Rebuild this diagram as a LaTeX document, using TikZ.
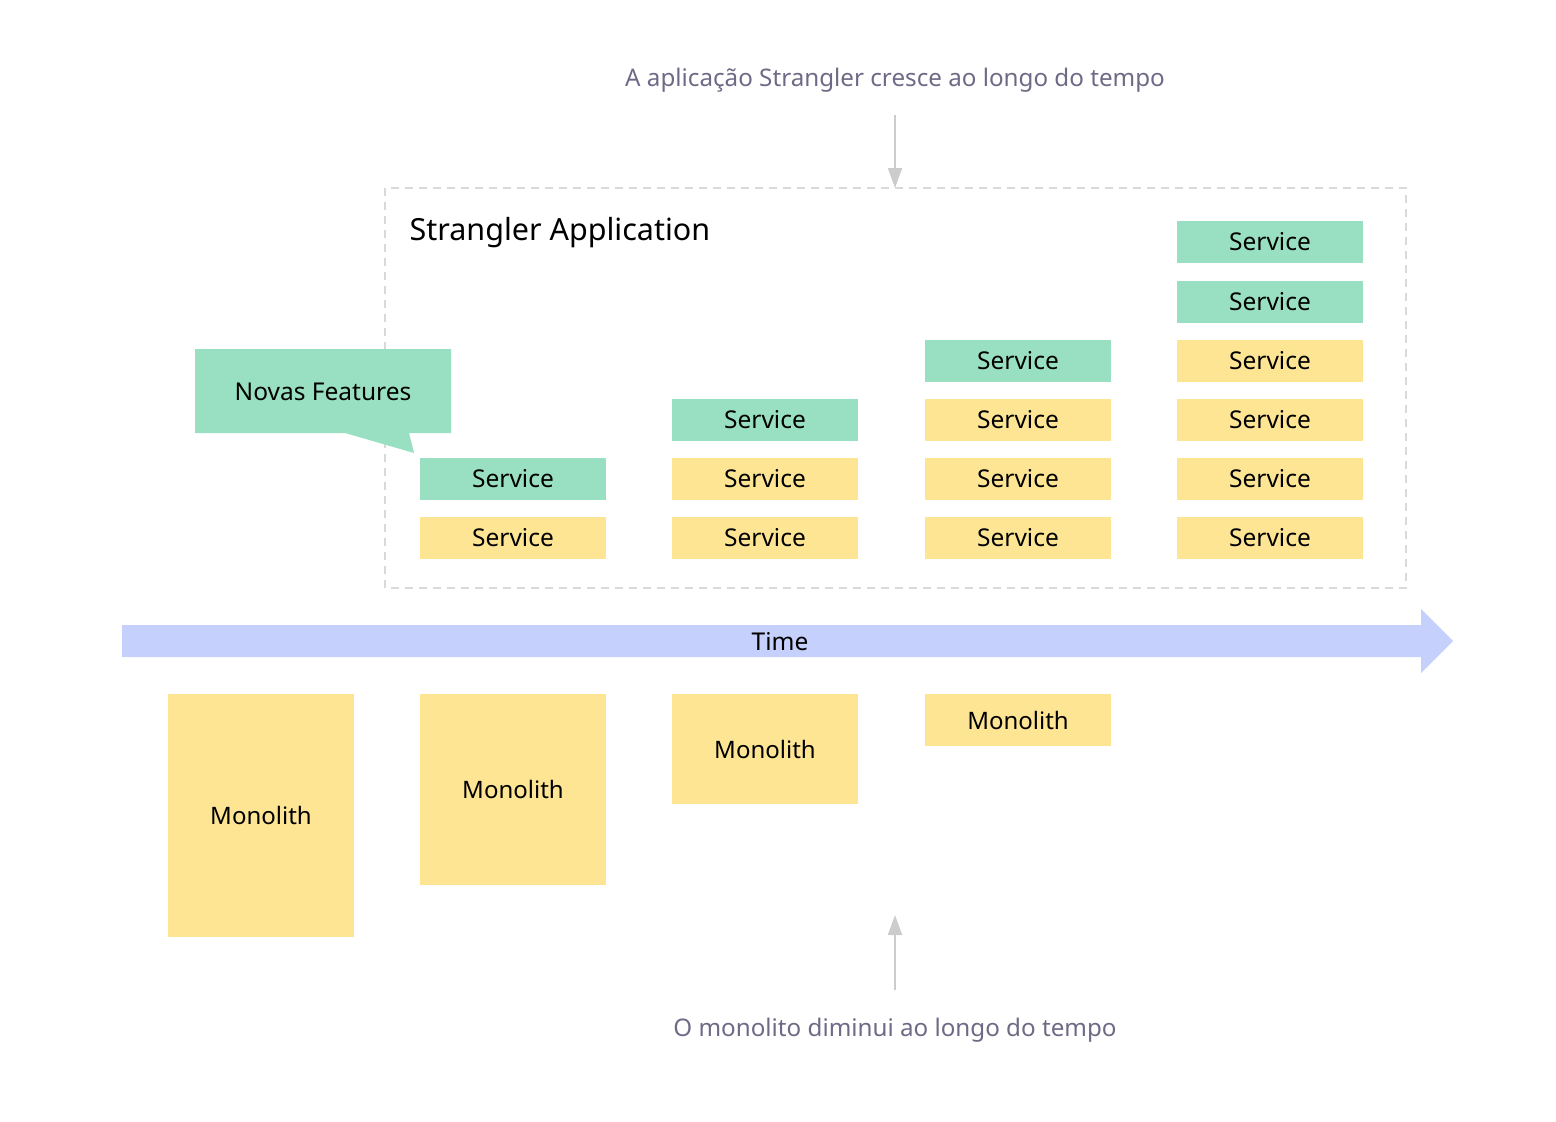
\documentclass[tikz,border=0pt]{standalone}
\usepackage{fontspec}
\setmainfont{Noto Sans}
\usetikzlibrary{arrows.meta,shapes.arrows}
\definecolor{grn}{HTML}{99E0C2}
\definecolor{ylw}{HTML}{FDE594}
\definecolor{tarrow}{HTML}{C5D0FC}
\definecolor{cap}{HTML}{6E6A86}
\definecolor{lgray}{HTML}{CCCCCC}
\definecolor{dgray}{HTML}{D9D9D9}
\tikzset{
  svc/.style={minimum width=186pt,minimum height=42pt,inner sep=0pt,font=\fontsize{24.5}{28}\selectfont},
  gsvc/.style={svc,fill=grn},
  ysvc/.style={svc,fill=ylw},
  mono/.style={fill=ylw,inner sep=0pt,font=\fontsize{24}{28}\selectfont,minimum width=186pt},
  captxt/.style={text=cap,font=\fontsize{24.2}{28}\selectfont},
  conn/.style={draw=lgray,line width=2pt,-{Triangle[length=20pt,width=14pt]}}
}
\begin{document}
\begin{tikzpicture}[x=1pt,y=-1pt]
\useasboundingbox (0,0) rectangle (1556,1122);
% captions
\node[captxt] (topcap) at (895,80) {A aplicação Strangler cresce ao longo do tempo};
\node[captxt] (botcap) at (895,1030) {O monolito diminui ao longo do tempo};
% dashed container
\draw[dgray,line width=2pt,dash pattern=on 8pt off 6pt] (385,188) rectangle (1406,588);
\coordinate (boxtop) at (895,188);
\node[anchor=base west,font=\fontsize{30.5}{34}\selectfont] (title) at (406,240) {Strangler Application};
\coordinate (topstart) at (895,115);
\draw[conn] (topstart) -- (boxtop);
% services column 1
\node[gsvc] (c1r2) at (513,479) {Service};
\node[ysvc] (c1r1) at (513,538) {Service};
% column 2
\node[gsvc] (c2r3) at (765,419.5) {Service};
\node[ysvc] (c2r2) at (765,479) {Service};
\node[ysvc] (c2r1) at (765,538) {Service};
% column 3
\node[gsvc] (c3r4) at (1018,360.5) {Service};
\node[ysvc] (c3r3) at (1018,419.5) {Service};
\node[ysvc] (c3r2) at (1018,479) {Service};
\node[ysvc] (c3r1) at (1018,538) {Service};
% column 4
\node[gsvc] (c4r6) at (1270,242) {Service};
\node[gsvc] (c4r5) at (1270,301.5) {Service};
\node[ysvc] (c4r4) at (1270,360.5) {Service};
\node[ysvc] (c4r3) at (1270,419.5) {Service};
\node[ysvc] (c4r2) at (1270,479) {Service};
\node[ysvc] (c4r1) at (1270,538) {Service};
% callout
\fill[grn] (195,349) -- (451,349) -- (451,433) -- (409,433) -- (414,453) -- (345,433) -- (195,433) -- cycle;
\node[font=\fontsize{24.5}{28}\selectfont] (novas) at (323,392) {Novas Features};
% time arrow
\fill[tarrow] (122,625) -- (1421,625) -- (1421,609) -- (1453,641) -- (1421,673) -- (1421,657) -- (122,657) -- cycle;
\node[font=\fontsize{24.5}{28}\selectfont] (time) at (780,642) {Time};
% monoliths
\node[mono,minimum height=243pt] (m1) at (261,815.5) {Monolith};
\node[mono,minimum height=191pt] (m2) at (513,789.5) {Monolith};
\node[mono,minimum height=110pt] (m3) at (765,749) {Monolith};
\node[mono,minimum height=52pt] (m4) at (1018,720) {Monolith};
% bottom arrow
\coordinate (botstart) at (895,990);
\coordinate (botend) at (895,915);
\draw[conn] (botstart) -- (botend);
\end{tikzpicture}
\end{document}
